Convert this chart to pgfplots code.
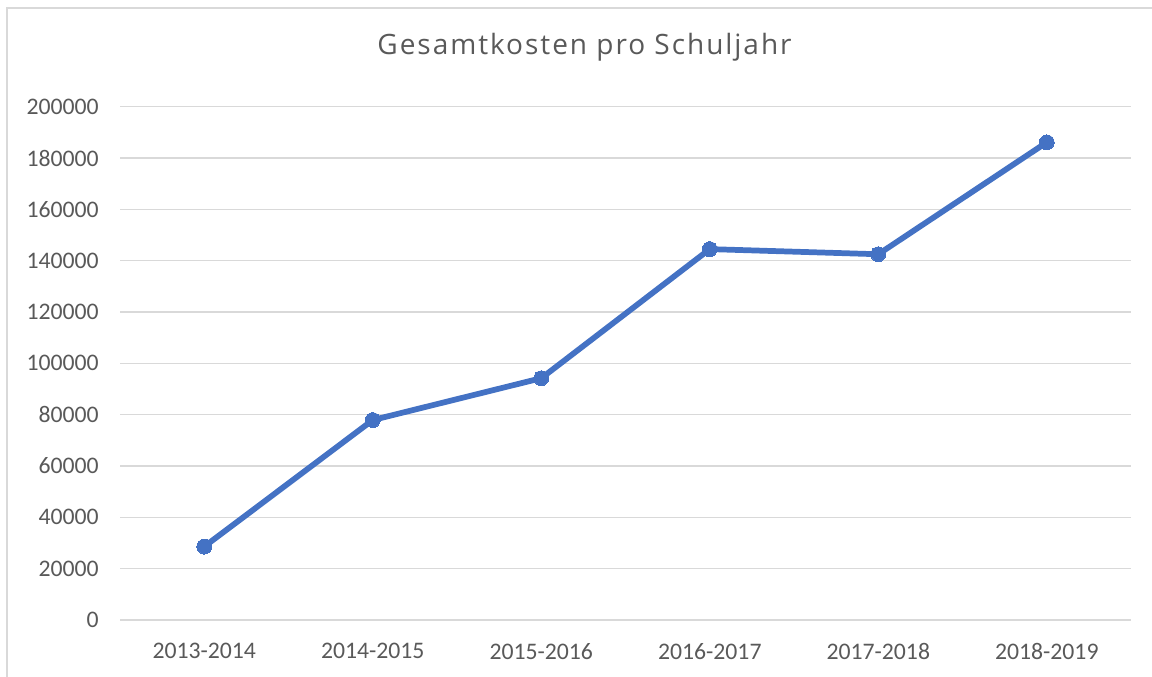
\documentclass[border=0pt]{standalone}
\usepackage{pgfplots}
\pgfplotsset{compat=1.18}
\usepackage{fontspec}
\setmainfont{Carlito}
\newfontfamily\titlefont[LetterSpace=7]{Open Sans}
\definecolor{linblue}{HTML}{4472C4}
\definecolor{gridgray}{HTML}{D9D9D9}
\definecolor{txtgray}{HTML}{595959}
\begin{document}
\begin{tikzpicture}
\path[use as bounding box] (0,0) rectangle (864pt,507.75pt);
% chart area frame (left and top edges visible)
\draw[gridgray, line width=1.5pt] (5pt,-2pt) -- (5pt,501.75pt) -- (870pt,501.75pt);
\node[anchor=base, text=txtgray, inner sep=0pt, font=\titlefont\fontsize{21pt}{24pt}\selectfont] at (438.4pt,466.5pt) {Gesamtkosten pro Schuljahr};
\begin{axis}[
  at={(90pt,42.75pt)}, anchor=south west,
  scale only axis, width=758.25pt, height=385pt,
  xmin=-0.5, xmax=5.5, ymin=0, ymax=200000,
  xtick={0,1,2,3,4,5},
  xticklabels={2013-2014,2014-2015,2015-2016,2016-2017,2017-2018,2018-2019},
  ytick={0,20000,...,200000},
  scaled y ticks=false,
  ymajorgrids, grid style={gridgray, line width=1.2pt},
  axis line style={draw=none},
  major tick length=0pt,
  tick label style={text=txtgray, font=\fontsize{17.8pt}{20pt}\selectfont},
  yticklabel style={anchor=east, inner sep=0pt, xshift=-15.75pt},
  xticklabel style={anchor=north, inner sep=0pt, yshift=-17.5pt},
  /pgf/number format/assume math mode=true,
  /pgf/number format/fixed,
  /pgf/number format/1000 sep={},
  clip=false,
]
\addplot[linblue, line width=4.3pt, mark=*, mark size=5.6pt, mark options={fill=linblue, draw=linblue, line width=0pt}] coordinates {
  (0,28600) (1,77900) (2,94200) (3,144500) (4,142500) (5,186100)
};
\end{axis}
\end{tikzpicture}
\end{document}
